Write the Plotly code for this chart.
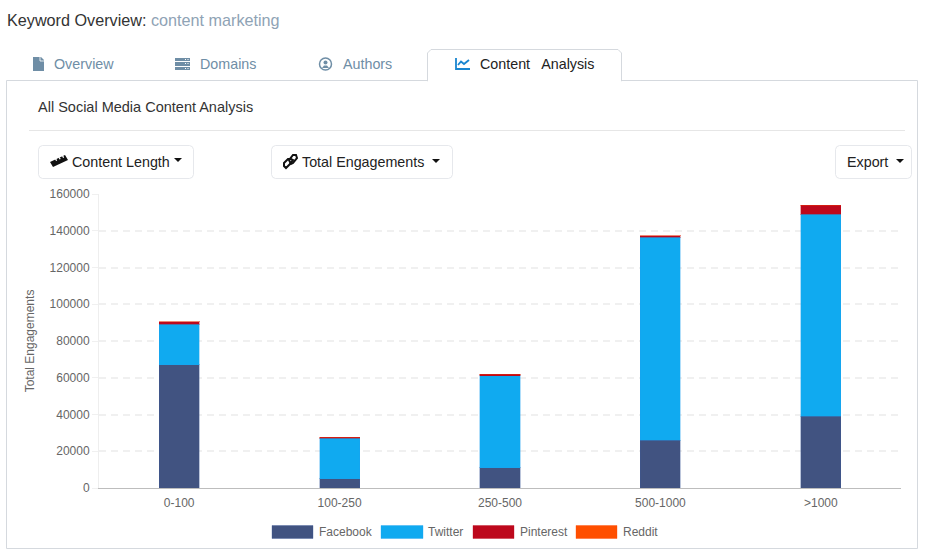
import plotly.graph_objects as go

# データ
categories = ["0-100", "100-250", "250-500", "500-1000", ">1000"]
facebook = [67000, 5000, 11000, 26000, 39000]
twitter = [22000, 22000, 50000, 110500, 110000]
pinterest = [1400, 500, 800, 800, 4900]
reddit = [100, 50, 50, 100, 100]
y_ticks = [0, 20000, 40000, 60000, 80000, 100000, 120000, 140000, 160000]

series_names = ["Facebook", "Twitter", "Pinterest", "Reddit"]
series_colors = ["#415381", "#10aaf0", "#bd081c", "#ff4f00"]
border_colors = ["rgba(59,89,152,0.35)", "rgba(29,161,242,0.35)",
                 "rgba(189,8,28,0.35)", "rgba(255,69,0,0.35)"]

W, H = 952, 559
GREY_ICON = "#6f8ea6"
FONT = "Liberation Sans"


def px(x):
    return x / W


def py(y):
    return 1 - y / H


def poly(points, close=True):
    s = "M" + " L".join(f"{px(x):.5f},{py(y):.5f}" for x, y in points)
    return s + (" Z" if close else "")


def rounded(x0, y0, x1, y1, r=4):
    pts = [(x0 + r, y0), (x1 - r, y0), (x1 - r * 0.3, y0 + r * 0.3), (x1, y0 + r),
           (x1, y1 - r), (x1 - r * 0.3, y1 - r * 0.3), (x1 - r, y1),
           (x0 + r, y1), (x0 + r * 0.3, y1 - r * 0.3), (x0, y1 - r),
           (x0, y0 + r), (x0 + r * 0.3, y0 + r * 0.3)]
    return poly(pts)


shapes = []
annots = []


def add_path(path, fill=None, line=None, width=1, layer="below"):
    shapes.append(dict(type="path", xref="paper", yref="paper", path=path,
                       fillcolor=fill or "rgba(0,0,0,0)",
                       line=dict(color=line or "rgba(0,0,0,0)", width=width if line else 0),
                       layer=layer))


def add_rect(x0, y0, x1, y1, fill=None, line=None, width=1):
    shapes.append(dict(type="rect", xref="paper", yref="paper",
                       x0=px(x0), x1=px(x1), y0=py(y1), y1=py(y0),
                       fillcolor=fill or "rgba(0,0,0,0)",
                       line=dict(color=line or "rgba(0,0,0,0)", width=width if line else 0),
                       layer="below"))


def add_circle(x0, y0, x1, y1, fill=None, line=None, width=1):
    shapes.append(dict(type="circle", xref="paper", yref="paper",
                       x0=px(x0), x1=px(x1), y0=py(y1), y1=py(y0),
                       fillcolor=fill or "rgba(0,0,0,0)",
                       line=dict(color=line or "rgba(0,0,0,0)", width=width if line else 0),
                       layer="below"))


def add_text(x, y, text, size=14.3, color="#333333", anchor="left"):
    # 注釈の内側余白 2px ぶん左へ寄せる
    annots.append(dict(x=px(x - 2), y=py(y), xref="paper", yref="paper", text=text,
                       showarrow=False, xanchor=anchor, yanchor="middle",
                       font=dict(family=FONT, size=size, color=color)))


def caret(cx, cy, color="#111111"):
    add_path(poly([(cx - 4, cy - 2), (cx + 4, cy - 2), (cx, cy + 2)]), fill=color)


fig = go.Figure()
for name, vals, color, border in zip(series_names, [facebook, twitter, pinterest, reddit],
                                     series_colors, border_colors):
    fig.add_trace(go.Bar(x=categories, y=vals, name=name,
                         marker=dict(color=color, line=dict(color=border, width=1))))

# ── パネルとタブ ──
add_rect(6.5, 80.5, 917.5, 548.5, fill="white", line="#d5d9de")
add_path(poly([(427.5, 81), (427.5, 53), (431, 49.5), (618, 49.5), (621.5, 53), (621.5, 81)]),
         fill="white", line="#d5d9de")
add_rect(428, 79, 621, 82, fill="white")
add_rect(29, 130, 905, 131, fill="#e6e6e6")

add_text(7, 20, 'Keyword Overview: <span style="color:#8fa3b5">content marketing</span>',
         size=16.2, color="#333333")
add_text(54, 64, "Overview", color="#6f8ea6")
add_text(200, 64, "Domains", color="#6f8ea6")
add_text(343, 64, "Authors", color="#6f8ea6")
add_text(480, 64, "Content\u00a0\u00a0 Analysis", color="#222222")
add_text(38, 107, "All Social Media Content Analysis", size=14.5, color="#333333")

# ── タブのアイコン ──
add_path(poly([(33, 57), (41, 57), (44, 60), (44, 71), (33, 71)]), fill=GREY_ICON)
add_path(poly([(40, 57), (40, 61), (44, 61)], close=False), line="white", width=0.8)
for y0, y1 in [(58, 61), (62, 66), (67, 70)]:
    add_rect(175, y0, 190, y1, fill=GREY_ICON)
    add_rect(185, y0 + 1, 186, y0 + 2, fill="white")
    add_rect(187.5, y0 + 1, 188.5, y0 + 2, fill="white")
add_circle(319.5, 58, 331.5, 70, line=GREY_ICON, width=1.5)
add_circle(323.5, 60.5, 327.5, 64.5, fill=GREY_ICON)
add_path(poly([(322, 68), (329, 68), (327, 65.5), (324, 65.5)]), fill=GREY_ICON)
add_path(poly([(456, 58), (456, 69), (470, 69)], close=False), line="#1a86d0", width=1.8)
add_path(poly([(458, 65), (461, 61.5), (464, 64), (469, 60)], close=False),
         line="#1a86d0", width=1.8)

# ── ボタン ──
for x0, x1 in [(38.5, 193.5), (271.5, 452.5), (835.5, 911.5)]:
    add_path(rounded(x0, 145.5, x1, 178.5), fill="white", line="#e6e8ec")
add_text(72, 162, "Content Length", color="#222222")
add_text(302, 162, "Total Engagements", color="#222222")
add_text(847, 162, "Export", color="#222222")
caret(178, 160)
caret(436, 161)
caret(900, 161)
# 定規
add_path(poly([(50, 162), (65, 155), (68, 160), (53, 167)]), fill="#111111")
for x, y in [(55, 159), (58.5, 157.5), (62, 156)]:
    add_path(poly([(x, y), (x + 1.2, y - 0.5), (x + 2.2, y + 1.6), (x + 1, y + 2.1)]), fill="white")
# リンク
add_path(poly([(284, 163), (288, 159), (291, 159), (293, 160), (289, 165), (286, 168), (284, 166)]),
         line="#111111", width=2)
add_path(poly([(289, 160), (293, 155), (296, 155), (297, 158), (293, 163), (291, 164)]),
         line="#111111", width=2)

# ── 凡例（幅広のスウォッチ） ──
legend_x = [(272, 313, 319), (381, 423, 428), (473, 514, 520), (576, 617, 623)]
for (x0, x1, tx), name, color, border in zip(legend_x, series_names, series_colors, border_colors):
    add_rect(x0, 525.5, x1, 538.5, fill=color, line=border)
    add_text(tx, 532, name, size=12, color="#666666")

fig.update_layout(
    barmode="stack",
    bargap=0.75,
    width=W, height=H,
    margin=dict(l=0, r=0, t=0, b=0),
    paper_bgcolor="white",
    plot_bgcolor="rgba(0,0,0,0)",
    showlegend=False,
    font=dict(family=FONT, size=12, color="#666666"),
    shapes=shapes,
    annotations=annots,
    xaxis=dict(domain=[px(99), px(901)], showgrid=False, ticks="outside", ticklen=4,
               tickcolor="rgba(0,0,0,0)",
               showline=True, linecolor="#bdbdbd", linewidth=1,
               tickfont=dict(size=12, color="#666666"), fixedrange=True),
    yaxis=dict(domain=[py(488), py(194)], range=[0, 160000], tickvals=y_ticks,
               tickformat="d", showgrid=True, griddash="7px,5px", gridcolor="#f0f0f0",
               gridwidth=1.5, zeroline=False, showline=True, linecolor="#eeeeee",
               ticks="outside", ticklen=6, tickcolor="#f0f0f0",
               tickfont=dict(size=12, color="#666666"),
               title=dict(text="Total Engagements", font=dict(size=12, color="#666666"),
                          standoff=12),
               automargin=False, fixedrange=True),
)

fig.write_html("out.html", config=dict(displayModeBar=False),
               post_script="document.body.style.margin='0';document.body.style.overflow='hidden';")
